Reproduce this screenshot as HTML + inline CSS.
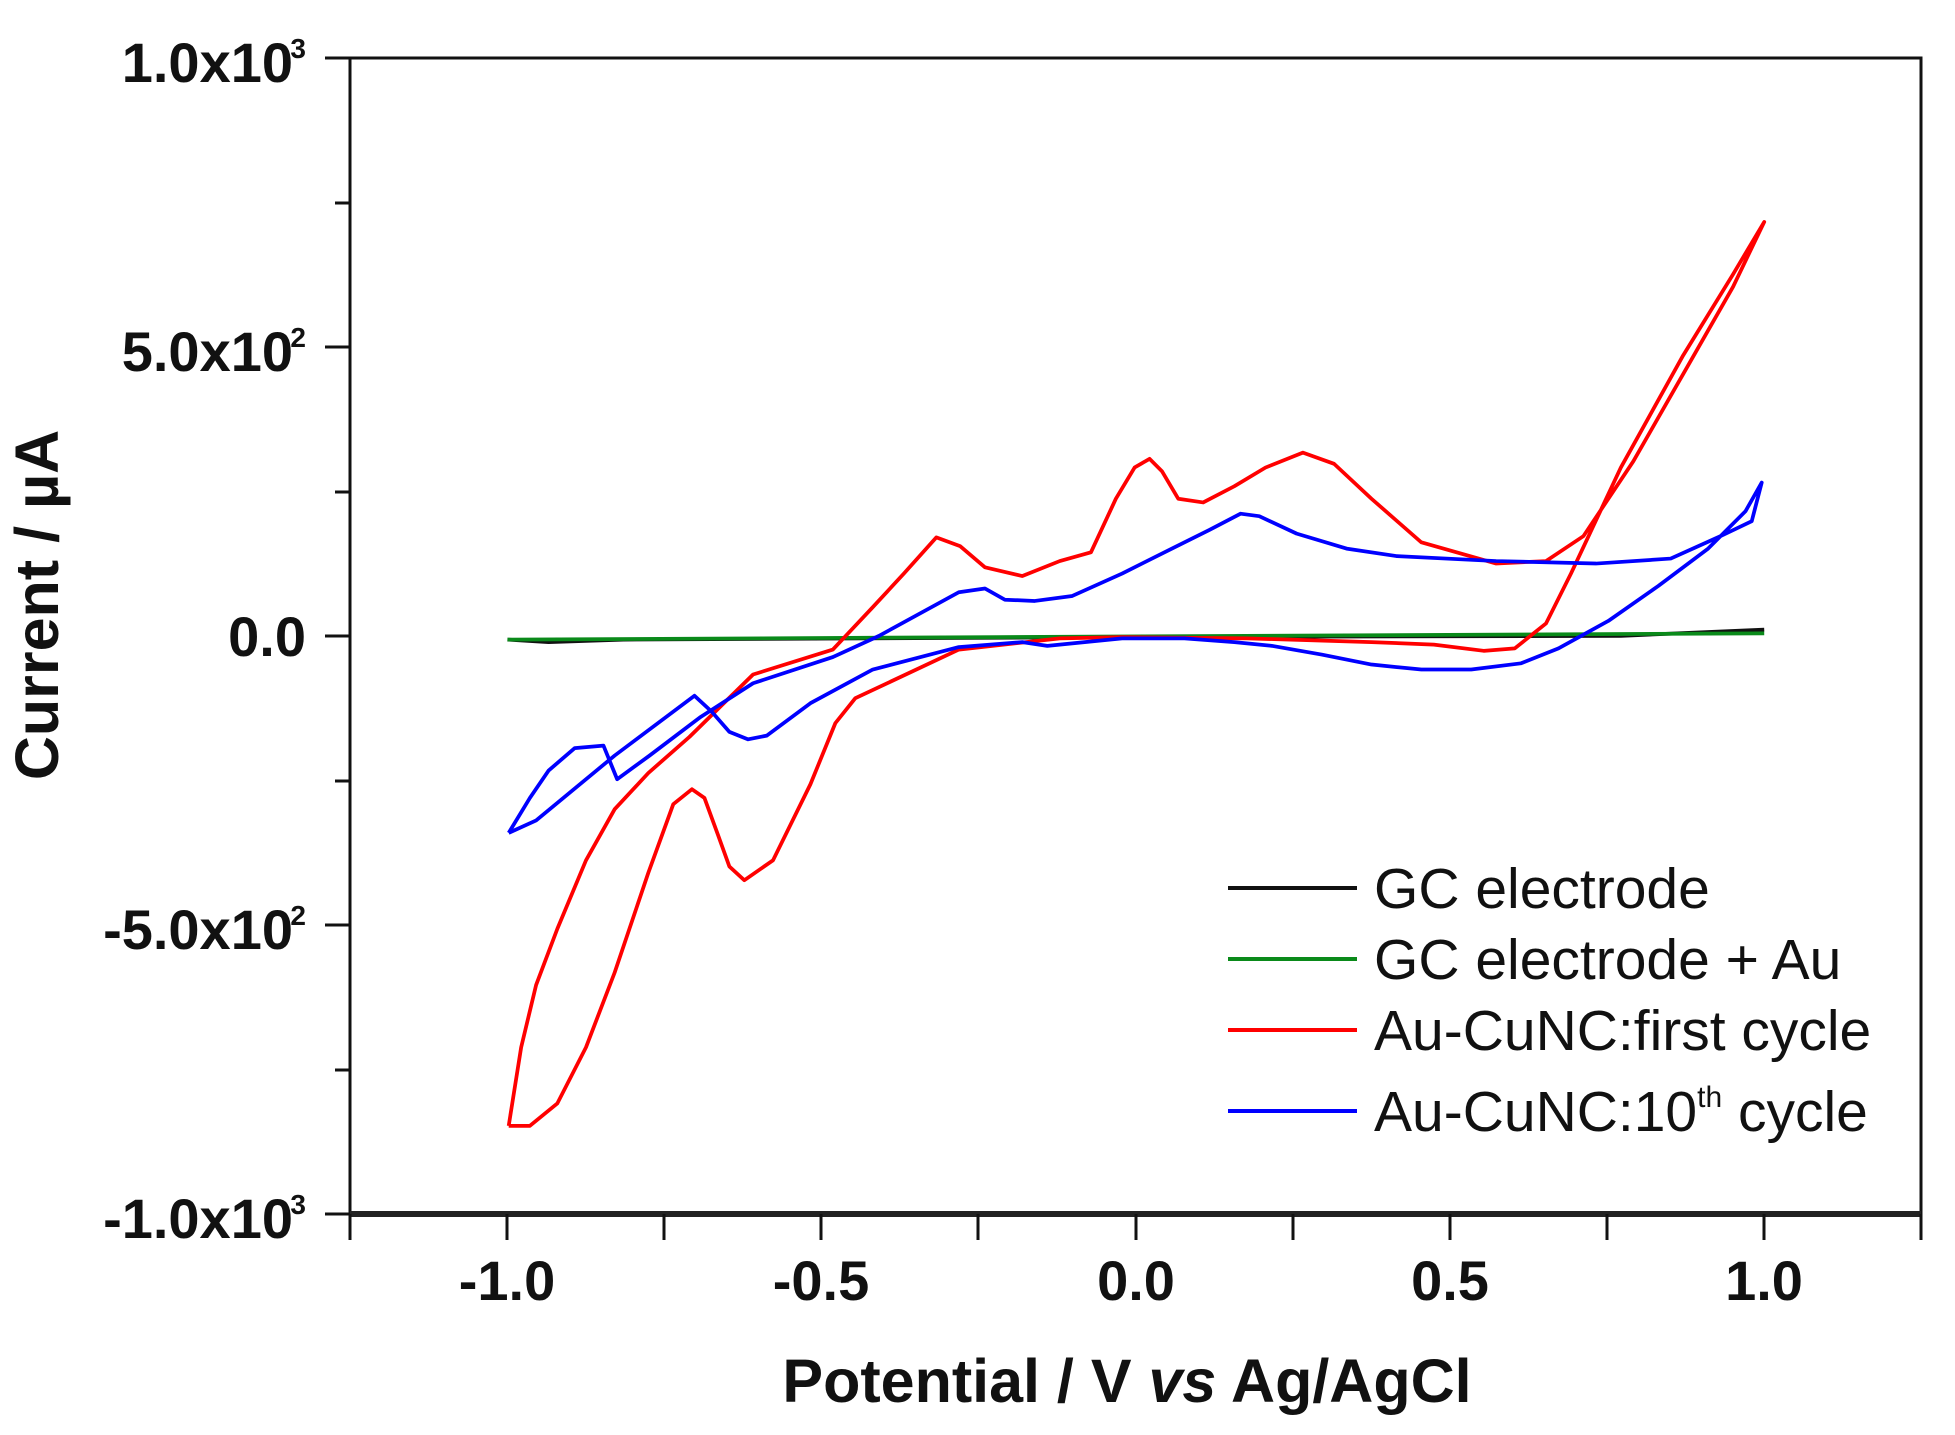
<!DOCTYPE html>
<html><head><meta charset="utf-8"><style>
html,body{margin:0;padding:0;background:#fff;}
svg{display:block;}
text{font-family:"Liberation Sans",Arial,sans-serif;}
</style></head><body>
<svg width="1955" height="1435" viewBox="0 0 1955 1435" xmlns="http://www.w3.org/2000/svg">
<rect width="1955" height="1435" fill="#fff"/>
<rect x="350" y="58" width="1571" height="1156" fill="none" stroke="#111" stroke-width="3"/>
<line x1="350" y1="1214" x2="1921" y2="1214" stroke="#222" stroke-width="6"/>
<g stroke="#111" stroke-width="3">
<line x1="325" y1="58" x2="350" y2="58"/><line x1="335" y1="203" x2="350" y2="203"/>
<line x1="325" y1="347" x2="350" y2="347"/><line x1="335" y1="492" x2="350" y2="492"/>
<line x1="325" y1="636" x2="350" y2="636"/><line x1="335" y1="781" x2="350" y2="781"/>
<line x1="325" y1="925" x2="350" y2="925"/><line x1="335" y1="1070" x2="350" y2="1070"/>
<line x1="325" y1="1214" x2="350" y2="1214"/>
<line x1="350" y1="1214" x2="350" y2="1240"/><line x1="507" y1="1214" x2="507" y2="1240"/>
<line x1="664" y1="1214" x2="664" y2="1240"/><line x1="821" y1="1214" x2="821" y2="1240"/>
<line x1="978" y1="1214" x2="978" y2="1240"/><line x1="1136" y1="1214" x2="1136" y2="1240"/>
<line x1="1293" y1="1214" x2="1293" y2="1240"/><line x1="1450" y1="1214" x2="1450" y2="1240"/>
<line x1="1607" y1="1214" x2="1607" y2="1240"/><line x1="1764" y1="1214" x2="1764" y2="1240"/>
<line x1="1921" y1="1214" x2="1921" y2="1240"/>
</g>
<g font-weight="bold" font-size="56" fill="#111" text-anchor="end">
<text x="293" y="82">1.0x10</text><text x="306" y="58" font-size="28">3</text>
<text x="293" y="371">5.0x10</text><text x="306" y="347" font-size="28">2</text>
<text x="306" y="656">0.0</text>
<text x="293" y="949">-5.0x10</text><text x="306" y="925" font-size="28">2</text>
<text x="293" y="1238">-1.0x10</text><text x="306" y="1214" font-size="28">3</text>
</g>
<g font-weight="bold" font-size="56" fill="#111" text-anchor="middle">
<text x="507" y="1300">-1.0</text><text x="821" y="1300">-0.5</text>
<text x="1136" y="1300">0.0</text><text x="1450" y="1300">0.5</text><text x="1764" y="1300">1.0</text>
</g>
<text x="1127" y="1402" font-weight="bold" font-size="61" text-anchor="middle" fill="#111">Potential / V <tspan font-style="italic">vs</tspan> Ag/AgCl</text>
<text transform="translate(58,605) rotate(-90)" font-weight="bold" font-size="61" text-anchor="middle" fill="#111">Current / µA</text>
<g transform="scale(1.2468)" fill="none" stroke-width="3" stroke-linejoin="round">
<polyline stroke="#111" points="407,513 440,515 500,513 900,511 1300,510 1415,505"/>
<polyline stroke="#0a8a1a" points="407,513 800,511 1415,508"/>
<polyline stroke="#f00" points="408,903 418,840 430,790 447,745 470,690 493,649 520,620 553,591 604,541 668,521 700,487 725,460 751,431 770,438 790,455 820,462 850,450 875,443 895,400 910,375 922,368 932,378 945,400 965,403 990,390 1015,375 1045,363 1070,372 1100,400 1140,435 1200,452 1240,450 1270,430 1310,370 1350,300 1390,230 1415,178 1390,220 1350,285 1300,375 1260,460 1240,500 1215,520 1190,522 1150,517 1100,515 1000,512 900,511 850,512 769,521 686,560 670,580 650,629 620,690 597,706 585,695 576,670 565,640 555,633 540,645 520,700 493,780 470,840 447,885 425,903 408,903"/>
<polyline stroke="#00f" points="408,668 425,640 440,618 461,600 484,598 495,625 521,606 562,575 604,548 668,527 705,510 769,475 790,472 806,481 830,482 860,478 900,460 940,440 970,425 995,412 1010,414 1040,428 1080,440 1120,446 1200,450 1280,452 1340,448 1380,430 1405,418 1413,387 1400,410 1370,440 1330,470 1290,498 1250,520 1220,532 1180,537 1140,537 1100,533 1060,525 1020,518 990,515 950,512 900,512 860,516 840,518 820,515 769,519 700,537 650,564 615,590 600,593 585,587 571,571 557,558 493,606 430,658 408,668"/>
</g>
<g stroke-width="4">
<line x1="1228" y1="888" x2="1357" y2="888" stroke="#111"/>
<line x1="1228" y1="959" x2="1357" y2="959" stroke="#0a8a1a"/>
<line x1="1228" y1="1030" x2="1357" y2="1030" stroke="#f00"/>
<line x1="1228" y1="1111" x2="1357" y2="1111" stroke="#00f"/>
</g>
<g font-size="57" fill="#111">
<text x="1374" y="908">GC electrode</text>
<text x="1374" y="979">GC electrode + Au</text>
<text x="1374" y="1050">Au-CuNC:first cycle</text>
<text x="1374" y="1131">Au-CuNC:10<tspan font-size="30" dy="-24">th</tspan><tspan dy="24"> cycle</tspan></text>
</g>
</svg>
</body></html>
